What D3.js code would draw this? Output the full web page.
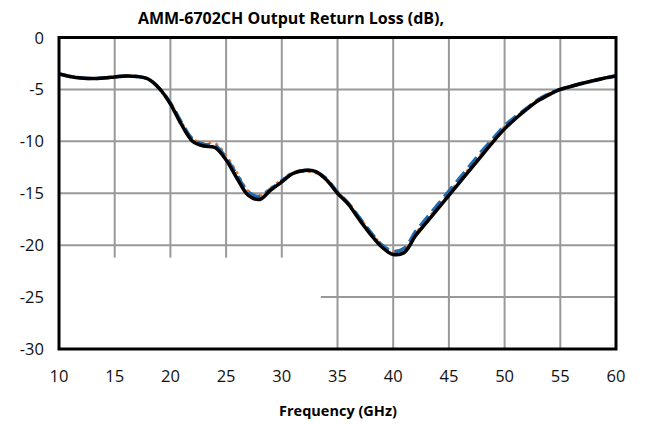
<!DOCTYPE html>
<html>
<head>
<meta charset="utf-8">
<script src="https://cdn.jsdelivr.net/npm/d3@7"></script>
<style>
  body { margin: 0; background: #fff; }
  text { font-family: "Open Sans", sans-serif; }
</style>
</head>
<body>
<div id="vis"></div>
<script>
// frequency points (GHz)
var freq = [10, 11, 12, 13, 14, 15, 16, 17, 18, 19, 20, 21, 22, 23, 24, 25, 26, 27, 28, 29, 30,
            31, 32, 33, 34, 35, 36, 37, 38, 39, 40, 41, 42, 43, 44, 45, 46, 47, 48, 49, 50,
            51, 52, 53, 54, 55, 56, 57, 58, 59, 60];

// black solid curve
var lossBlack = [-3.5, -3.75, -3.9, -3.95, -3.9, -3.8, -3.7, -3.75, -4.0, -4.9, -6.4, -8.4, -10.0, -10.45, -10.6, -11.8, -13.6, -15.2, -15.6, -14.7, -13.9,
                 -13.1, -12.8, -12.9, -13.7, -15.0, -16.1, -17.6, -19.0, -20.2, -20.9, -20.7, -19.1, -17.8, -16.5, -15.2, -13.9, -12.6, -11.3, -10.0, -8.8,
                 -7.8, -6.9, -6.1, -5.5, -5.0, -4.7, -4.4, -4.15, -3.9, -3.7];

// blue dashed curve
var lossBlue = [-3.5, -3.75, -3.9, -3.95, -3.9, -3.8, -3.7, -3.75, -4.0, -4.9, -6.3, -8.2, -9.8, -10.3, -10.4, -11.6, -13.3, -14.9, -15.3, -14.6, -13.8,
                -13.1, -12.8, -12.9, -13.6, -14.9, -16.0, -17.4, -18.8, -20.0, -20.6, -20.3, -18.7, -17.4, -16.1, -14.8, -13.5, -12.2, -10.9, -9.7, -8.5,
                -7.6, -6.8, -6.0, -5.4, -5.0, -4.7, -4.4, -4.15, -3.9, -3.7];

// orange dotted curve
var lossOrange = [-3.5, -3.75, -3.9, -3.95, -3.9, -3.8, -3.7, -3.75, -4.0, -4.9, -6.3, -8.2, -9.8, -10.1, -10.2, -11.4, -13.1, -14.8, -15.2, -14.5, -13.7,
                  -13.0, -12.9, -13.0, -13.7, -14.9, -16.0, -17.4, -18.8, -20.0, -20.6, -20.4, -18.9, -17.6, -16.3, -15.0, -13.7, -12.4, -11.1, -9.8, -8.6,
                  -7.7, -6.8, -6.0, -5.4, -5.0, -4.7, -4.4, -4.15, -3.9, -3.7];

var xTicks = [10, 15, 20, 25, 30, 35, 40, 45, 50, 55, 60];
var yTicks = [0, -5, -10, -15, -20, -25, -30];

var width = 645, height = 424;
var margin = {top: 37.5, right: 29, bottom: 75, left: 59};

var x = d3.scaleLinear()
    .domain([10, 60])
    .range([margin.left, width - margin.right]);

var y = d3.scaleLinear()
    .domain([-30, 0])
    .range([height - margin.bottom, margin.top]);

var svg = d3.select('#vis').append('svg')
    .attr('width', width)
    .attr('height', height);

// grid
svg.append('g')
    .selectAll('line')
    .data(xTicks)
    .enter()
    .append('line')
        .attr('x1', d => x(d)).attr('x2', d => x(d))
        .attr('y1', y(0)).attr('y2', y(-30))
        .attr('stroke', '#999')
        .attr('stroke-width', 2);

svg.append('g')
    .selectAll('line')
    .data(yTicks)
    .enter()
    .append('line')
        .attr('x1', x(10)).attr('x2', x(60))
        .attr('y1', d => y(d)).attr('y2', d => y(d))
        .attr('stroke', '#999')
        .attr('stroke-width', 2);

// blanked legend box
svg.append('rect')
    .attr('x', x(10))
    .attr('y', y(-21.2))
    .attr('width', x(33.5) - x(10))
    .attr('height', y(-30) - y(-21.2))
    .attr('fill', '#fff');

// curves
var pts = freq.map((f, i) => ({f: f, b: lossBlack[i], u: lossBlue[i], o: lossOrange[i]}));

function line(key) {
    return d3.line()
        .x(d => x(d.f))
        .y(d => y(d[key]))
        .curve(d3.curveCatmullRom);
}

svg.append('clipPath').attr('id', 'plot')
    .append('rect')
    .attr('x', x(10)).attr('y', y(0))
    .attr('width', x(60) - x(10)).attr('height', y(-30) - y(0));

var curves = svg.append('g').attr('clip-path', 'url(#plot)');

curves.append('path')
    .datum(pts)
    .attr('d', line('o'))
    .attr('fill', 'none')
    .attr('stroke', '#ed7d31')
    .attr('stroke-width', 3)
    .attr('stroke-dasharray', '3,4');

curves.append('path')
    .datum(pts)
    .attr('d', line('u'))
    .attr('fill', 'none')
    .attr('stroke', '#1f6cb0')
    .attr('stroke-width', 3.5)
    .attr('stroke-dasharray', '13,6');

curves.append('path')
    .datum(pts)
    .attr('d', line('b'))
    .attr('fill', 'none')
    .attr('stroke', '#000')
    .attr('stroke-width', 3.5);

// frame
svg.append('rect')
    .attr('x', x(10)).attr('y', y(0))
    .attr('width', x(60) - x(10)).attr('height', y(-30) - y(0))
    .attr('fill', 'none')
    .attr('stroke', '#000')
    .attr('stroke-width', 3);

// tick labels
svg.append('g')
    .selectAll('text')
    .data(xTicks)
    .enter()
    .append('text')
        .attr('x', d => x(d))
        .attr('y', 382)
        .attr('text-anchor', 'middle')
        .attr('font-size', 16.5)
        .attr('fill', '#111')
        .text(d => d);

svg.append('g')
    .selectAll('text')
    .data(yTicks)
    .enter()
    .append('text')
        .attr('x', 44)
        .attr('y', d => y(d) + 6)
        .attr('text-anchor', 'end')
        .attr('font-size', 16.5)
        .attr('fill', '#111')
        .text(d => d);

// titles
svg.append('text')
    .attr('x', 291)
    .attr('y', 24)
    .attr('text-anchor', 'middle')
    .attr('font-size', 16)
    .attr('font-weight', 'bold')
    .text('AMM-6702CH Output Return Loss (dB),');

svg.append('text')
    .attr('x', 338)
    .attr('y', 416)
    .attr('text-anchor', 'middle')
    .attr('font-size', 14.5)
    .attr('font-weight', 'bold')
    .text('Frequency (GHz)');
</script>
</body>
</html>
